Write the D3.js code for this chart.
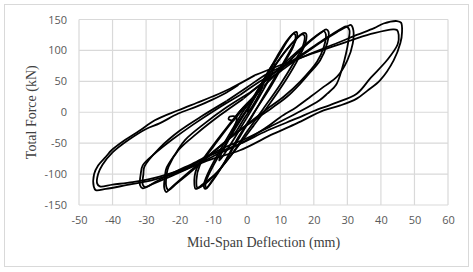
<!DOCTYPE html>
<html>
<head>
<meta charset="utf-8">
<script src="https://cdn.jsdelivr.net/npm/d3@7"></script>
<style>
  body { margin: 0; background: #fff; }
  svg { display: block; }
</style>
</head>
<body>
<div id="chart"></div>
<script>
// axis ticks
const xTicks = [-50, -40, -30, -20, -10, 0, 10, 20, 30, 40, 50, 60];
const yTicks = [-150, -100, -50, 0, 50, 100, 150];

// hysteresis cycles, [deflection mm, force kN]
const cycle4 = [[0,0],[2,20],[4,38],[4.6,40],[3.8,30],[1.5,8],[-1,-12],[-3,-30],[-4.5,-40],[-4.2,-34],[-2,-14],[0,3]];
const cycle8 = [[0,3],[3,32],[6,62],[8,78],[8.3,75],[6.5,52],[3,18],[-1,-18],[-4,-45],[-7,-70],[-8.2,-78],[-7.8,-70],[-5,-40],[-3,-8],[-5,-7],[-5.4,-11],[-4,-13],[-2,2],[1,16]];
const cycle13a = [[1,16],[5,52],[9,90],[12,116],[14,128],[14.8,130],[15,122],[13,100],[9,62],[5,25],[1,-12],[-3,-48],[-7,-85],[-10.5,-113],[-12.3,-124],[-12.8,-119],[-11.5,-98],[-8,-62],[-4,-25],[-1,2],[2,22]];
const cycle13b = [[2,22],[6,60],[10,96],[12.5,118],[14,127],[14.5,125],[14,108],[11,78],[7,40],[2,-2],[-3,-45],[-7,-84],[-10.5,-112],[-12,-122],[-12.3,-115],[-10.5,-92],[-7,-58],[-3,-20],[1,12],[4,38]];
const cycle17a = [[4,38],[8,72],[12,102],[15,120],[16.8,128],[17.7,127],[17.6,114],[15.5,88],[12,55],[7,15],[2,-22],[-4,-65],[-9,-98],[-13,-116],[-15.2,-124],[-15.6,-116],[-15,-92],[-12,-68],[-7,-32],[-2,2],[3,30]];
const cycle17b = [[3,30],[7,64],[11,95],[14.5,117],[16.5,126],[17.2,124],[16.8,108],[14,80],[10,45],[5,6],[0,-32],[-5,-72],[-10,-104],[-13.5,-120],[-14.7,-122],[-15,-110],[-14,-86],[-10,-56],[-5,-20],[0,12],[5,42]];
const cycle23a = [[5,42],[10,68],[15,95],[19,115],[22,128],[23.7,134],[24.4,130],[24,112],[21.9,84],[18.5,62],[15.9,46],[12,25],[7.9,8.6],[3,-10],[-2,-29],[-8,-55],[-14,-82],[-19,-105],[-22.5,-122],[-24,-129],[-24.6,-122],[-24.3,-100],[-23.9,-90],[-21,-65],[-18.4,-45],[-13,-20],[-6,8],[1,32]];
const cycle23b = [[1,32],[7,58],[13,88],[18,112],[21.5,127],[23,131],[23.6,126],[23,106],[21,82],[16,50],[11,25],[6,5],[0,-20],[-6,-46],[-12,-74],[-17,-98],[-21.5,-118],[-23.3,-126],[-24,-120],[-23.8,-98],[-23.3,-88],[-20.4,-61.5],[-15,-35],[-8,-5],[-1,22]];
const cycle30a = [[-1,22],[5,48],[10,66],[16,90],[22,113],[27,130],[30,139],[31.1,141],[31.8,132],[31.6,111],[30,84],[27,58],[22.9,41],[19,25],[14.9,8.6],[10,-8],[6,-24],[2,-38],[-2,-51],[-8,-66],[-15.4,-86],[-22,-102],[-28,-116],[-31,-123],[-31.8,-118],[-31.6,-100],[-31,-86],[-27,-65],[-22.4,-45],[-16,-20],[-9,5],[-2,28]];
const cycle30b = [[-2,28],[4,50],[10,70],[16,92],[22,114],[26,128],[28.5,136],[29.6,139],[30.6,133],[30.3,115],[29.6,95],[28.5,72],[26.7,45],[24,30],[21.7,19.4],[14.7,-2],[6.7,-24],[0,-42],[-7,-58],[-15,-80],[-22,-98],[-27,-112],[-30.3,-121],[-31,-117],[-30.8,-100],[-30.5,-88],[-26,-58],[-20,-30],[-13,-5],[-6,18]];
const cycle45a = [[-6,18],[0,40],[6,62],[13,80],[20,97],[27,112],[32.8,125],[38,136],[40.8,143.5],[44.8,147.5],[46,145],[46.3,130],[45.8,112],[43.8,84],[39.8,52],[36,35],[32.8,22],[27.9,11],[22.9,3],[14.9,-18],[7.9,-35],[-2,-61.5],[-10,-75],[-15.4,-86],[-22,-100],[-28.4,-110],[-36,-118],[-42,-124],[-45,-126],[-45.6,-120],[-45.5,-100],[-44.3,-86],[-42,-72],[-40.3,-61.5],[-36.3,-45],[-32,-30],[-27.4,-13],[-20.4,3.2],[-15,15],[-10.4,25],[-5,38],[2.5,60]];
const cycle45b = [[2.5,60],[8,72],[16.7,89.5],[26.7,108],[33,120],[38,128],[43.6,134],[44.8,133],[45.3,125],[45,110],[41.8,84],[37,56],[32.8,30],[25.9,14],[20,2],[14.9,-10],[6,-30],[-2,-51],[-10,-68],[-18,-90],[-26,-104],[-34,-113],[-40,-117],[-43.8,-120],[-44.6,-115],[-44.3,-100],[-43,-85],[-40,-65],[-35.3,-45],[-30,-27],[-26,-18],[-20.4,-2],[-15,9],[-10.4,20],[-6,32],[-2.5,44]];

const cycles = [cycle4, cycle8, cycle13a, cycle13b, cycle17a, cycle17b, cycle23a, cycle23b, cycle30a, cycle30b, cycle45a, cycle45b];

const W = 473, H = 272;
const margin = { top: 19.5, right: 25, bottom: 67, left: 79 };
const width = 448 - margin.left;
const height = 205 - margin.top;

const svg = d3.select("#chart").append("svg")
  .attr("width", W)
  .attr("height", H);

// chart border
svg.append("rect")
  .attr("x", 4.5).attr("y", 4.5)
  .attr("width", 464).attr("height", 262)
  .attr("fill", "#fff")
  .attr("stroke", "#d9d9d9")
  .attr("stroke-width", 1);

const g = svg.append("g")
  .attr("transform", `translate(${margin.left},${margin.top})`);

const x = d3.scaleLinear().domain([-50, 60]).range([0, width]);
const y = d3.scaleLinear().domain([-150, 150]).range([height, 0]);

// gridlines
g.selectAll(".xgrid")
  .data(xTicks)
  .join("line")
  .attr("x1", d => x(d)).attr("x2", d => x(d))
  .attr("y1", 0).attr("y2", height)
  .attr("stroke", "#d9d9d9")
  .attr("stroke-width", 1.2);

g.selectAll(".ygrid")
  .data(yTicks)
  .join("line")
  .attr("x1", 0).attr("x2", width)
  .attr("y1", d => y(d)).attr("y2", d => y(d))
  .attr("stroke", "#d9d9d9")
  .attr("stroke-width", 1.2);

// axes (labels only, plain hyphen for minus like the original)
g.append("g")
  .attr("transform", `translate(0,${height})`)
  .call(d3.axisBottom(x).tickValues(xTicks).tickFormat(d => String(d)).tickSize(0).tickPadding(11))
  .call(a => a.select(".domain").remove())
  .selectAll("text")
  .style("font-family", "'Open Sans', sans-serif")
  .style("font-size", "11px")
  .attr("fill", "#595959");

g.append("g")
  .call(d3.axisLeft(y).tickValues(yTicks).tickFormat(d => String(d)).tickSize(0).tickPadding(12))
  .call(a => a.select(".domain").remove())
  .selectAll("text")
  .style("font-family", "'Open Sans', sans-serif")
  .style("font-size", "11px")
  .attr("fill", "#595959");

// hysteresis curve
const line = d3.line()
  .x(d => x(d[0]))
  .y(d => y(d[1]))
  .curve(d3.curveCatmullRom.alpha(0.5));

g.selectAll(".cycle")
  .data(cycles)
  .join("path")
  .attr("fill", "none")
  .attr("stroke", "#000")
  .attr("stroke-width", 1.8)
  .attr("stroke-linejoin", "round")
  .attr("d", line);

// axis titles
svg.append("text")
  .attr("x", margin.left + width / 2)
  .attr("y", 247)
  .attr("text-anchor", "middle")
  .style("font-family", "'Liberation Serif', serif")
  .style("font-size", "14px")
  .attr("fill", "#404040")
  .text("Mid-Span Deflection (mm)");

svg.append("text")
  .attr("transform", `translate(36,${margin.top + height / 2}) rotate(-90)`)
  .attr("text-anchor", "middle")
  .style("font-family", "'Liberation Serif', serif")
  .style("font-size", "14px")
  .attr("fill", "#404040")
  .text("Total Force (kN)");
</script>
</body>
</html>
